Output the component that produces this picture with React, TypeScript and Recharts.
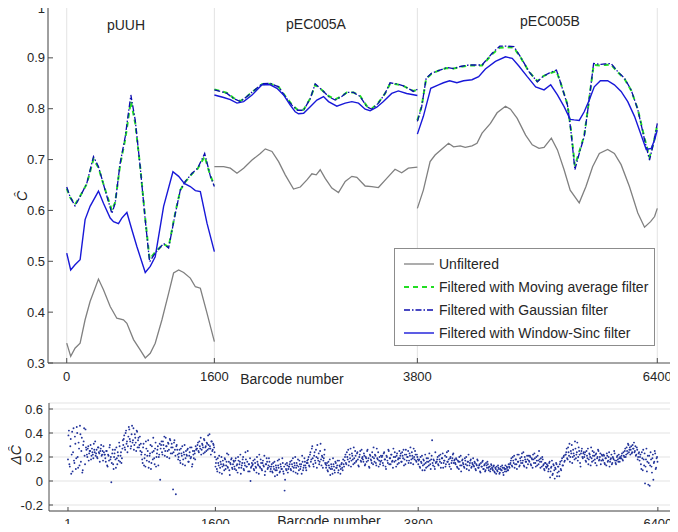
import { CartesianGrid, Legend, Line, LineChart, Scatter, ScatterChart, XAxis, YAxis } from 'recharts';

type Pt = [number, number];

const segmentNames = ['pUUH', 'pEC005A', 'pEC005B'];
const topXTicks = [0, 1600, 3800, 6400];
const bottomXTicks = [1, 1600, 3800, 6400];
const topYTicks = [0.3, 0.4, 0.5, 0.6, 0.7, 0.8, 0.9, 1];
const bottomYTicks = [-0.2, 0, 0.2, 0.4, 0.6];

// [barcode, C-hat] per plasmid segment
const unfiltered: Pt[][] = [
  [[0, 0.339], [43, 0.313], [90, 0.329], [145, 0.339], [199, 0.385], [253, 0.421], [344, 0.465], [398, 0.444], [471, 0.411], [543, 0.388], [615, 0.385], [652, 0.378], [724, 0.346], [796, 0.326], [851, 0.31], [905, 0.319], [959, 0.339], [1032, 0.385], [1104, 0.437], [1158, 0.477], [1213, 0.483], [1267, 0.478], [1339, 0.467], [1394, 0.45], [1448, 0.447], [1520, 0.398], [1600, 0.342]],
  [[1600, 0.686], [1701, 0.686], [1773, 0.683], [1845, 0.673], [1917, 0.683], [2008, 0.699], [2098, 0.712], [2152, 0.721], [2224, 0.716], [2296, 0.696], [2368, 0.67], [2458, 0.642], [2531, 0.646], [2603, 0.66], [2657, 0.672], [2704, 0.67], [2747, 0.68], [2801, 0.663], [2873, 0.644], [2945, 0.635], [3018, 0.657], [3090, 0.667], [3144, 0.665], [3234, 0.648], [3306, 0.647], [3378, 0.645], [3468, 0.663], [3558, 0.681], [3630, 0.674], [3702, 0.683], [3800, 0.685]],
  [[3800, 0.604], [3865, 0.64], [3938, 0.696], [3992, 0.709], [4054, 0.719], [4138, 0.732], [4192, 0.725], [4265, 0.727], [4319, 0.724], [4392, 0.727], [4446, 0.732], [4501, 0.752], [4592, 0.771], [4664, 0.792], [4755, 0.805], [4809, 0.799], [4882, 0.781], [4973, 0.748], [5045, 0.729], [5118, 0.722], [5173, 0.724], [5252, 0.742], [5318, 0.719], [5390, 0.68], [5456, 0.64], [5554, 0.615], [5627, 0.647], [5699, 0.686], [5772, 0.712], [5862, 0.72], [5935, 0.712], [6008, 0.69], [6098, 0.647], [6189, 0.595], [6262, 0.567], [6327, 0.578], [6371, 0.588], [6400, 0.604]],
];

const movingAvg: Pt[][] = [
  [[0, 0.643], [36, 0.626], [90, 0.612], [127, 0.622], [181, 0.64], [217, 0.652], [290, 0.701], [344, 0.684], [416, 0.641], [489, 0.6], [525, 0.616], [579, 0.69], [634, 0.74], [695, 0.815], [742, 0.772], [796, 0.686], [851, 0.584], [898, 0.504], [959, 0.518], [1050, 0.534], [1104, 0.528], [1177, 0.596], [1231, 0.64], [1285, 0.656], [1358, 0.672], [1419, 0.682], [1495, 0.706], [1557, 0.668], [1600, 0.65]],
  [[1600, 0.838], [1665, 0.835], [1737, 0.831], [1809, 0.821], [1881, 0.815], [1953, 0.824], [2025, 0.835], [2116, 0.848], [2206, 0.849], [2296, 0.843], [2368, 0.825], [2440, 0.808], [2502, 0.798], [2567, 0.798], [2639, 0.82], [2693, 0.847], [2765, 0.837], [2837, 0.825], [2909, 0.818], [2981, 0.825], [3036, 0.832], [3108, 0.832], [3180, 0.825], [3252, 0.805], [3306, 0.8], [3378, 0.812], [3450, 0.83], [3504, 0.849], [3576, 0.848], [3648, 0.845], [3720, 0.838], [3756, 0.835], [3800, 0.837]],
  [[3800, 0.777], [3847, 0.805], [3895, 0.859], [3956, 0.869], [4029, 0.875], [4120, 0.88], [4192, 0.879], [4265, 0.882], [4356, 0.885], [4501, 0.885], [4610, 0.907], [4693, 0.92], [4773, 0.921], [4846, 0.92], [4918, 0.901], [5009, 0.873], [5100, 0.854], [5165, 0.864], [5227, 0.869], [5307, 0.874], [5354, 0.85], [5427, 0.808], [5463, 0.76], [5507, 0.688], [5554, 0.715], [5608, 0.747], [5652, 0.805], [5710, 0.886], [5790, 0.885], [5833, 0.886], [5899, 0.887], [5971, 0.872], [6044, 0.859], [6117, 0.836], [6189, 0.799], [6262, 0.742], [6316, 0.705], [6363, 0.735], [6400, 0.768]],
];

const gaussian: Pt[][] = [
  [[0, 0.646], [36, 0.627], [90, 0.609], [127, 0.621], [181, 0.64], [217, 0.653], [290, 0.706], [344, 0.686], [416, 0.64], [489, 0.594], [525, 0.614], [579, 0.693], [634, 0.745], [695, 0.827], [742, 0.778], [796, 0.686], [851, 0.581], [898, 0.499], [959, 0.516], [1050, 0.535], [1104, 0.526], [1177, 0.594], [1231, 0.64], [1285, 0.657], [1358, 0.673], [1419, 0.683], [1495, 0.712], [1557, 0.667], [1600, 0.647]],
  [[1600, 0.837], [1665, 0.834], [1737, 0.83], [1809, 0.82], [1881, 0.814], [1953, 0.824], [2025, 0.835], [2116, 0.849], [2206, 0.85], [2296, 0.843], [2368, 0.824], [2440, 0.807], [2502, 0.797], [2567, 0.797], [2639, 0.82], [2693, 0.849], [2765, 0.837], [2837, 0.824], [2909, 0.817], [2981, 0.824], [3036, 0.832], [3108, 0.832], [3180, 0.824], [3252, 0.804], [3306, 0.799], [3378, 0.811], [3450, 0.83], [3504, 0.851], [3576, 0.849], [3648, 0.845], [3720, 0.838], [3756, 0.834], [3800, 0.838]],
  [[3800, 0.775], [3847, 0.804], [3895, 0.86], [3956, 0.87], [4029, 0.875], [4120, 0.881], [4192, 0.879], [4265, 0.883], [4356, 0.886], [4501, 0.886], [4610, 0.909], [4693, 0.923], [4773, 0.923], [4846, 0.922], [4918, 0.902], [5009, 0.873], [5100, 0.853], [5165, 0.864], [5227, 0.87], [5307, 0.876], [5354, 0.85], [5427, 0.807], [5463, 0.758], [5507, 0.68], [5554, 0.712], [5608, 0.745], [5652, 0.804], [5710, 0.889], [5790, 0.887], [5833, 0.888], [5899, 0.889], [5971, 0.873], [6044, 0.86], [6117, 0.837], [6189, 0.798], [6262, 0.739], [6316, 0.699], [6363, 0.735], [6400, 0.771]],
];

const windowSinc: Pt[][] = [
  [[0, 0.516], [43, 0.483], [90, 0.493], [145, 0.503], [199, 0.582], [253, 0.608], [344, 0.638], [398, 0.614], [471, 0.585], [507, 0.578], [561, 0.574], [597, 0.585], [652, 0.596], [706, 0.562], [760, 0.529], [851, 0.478], [905, 0.49], [959, 0.509], [1050, 0.608], [1151, 0.676], [1213, 0.667], [1274, 0.653], [1339, 0.647], [1394, 0.639], [1448, 0.637], [1520, 0.575], [1600, 0.519]],
  [[1600, 0.827], [1701, 0.822], [1773, 0.818], [1845, 0.811], [1917, 0.814], [2008, 0.827], [2116, 0.847], [2206, 0.847], [2278, 0.84], [2350, 0.827], [2422, 0.807], [2476, 0.794], [2512, 0.79], [2567, 0.791], [2639, 0.804], [2711, 0.817], [2783, 0.824], [2837, 0.814], [2927, 0.805], [3018, 0.811], [3090, 0.814], [3162, 0.811], [3234, 0.799], [3288, 0.796], [3360, 0.803], [3432, 0.814], [3522, 0.83], [3594, 0.835], [3684, 0.83], [3800, 0.826]],
  [[3800, 0.75], [3865, 0.785], [3945, 0.84], [4029, 0.847], [4083, 0.851], [4149, 0.855], [4228, 0.851], [4301, 0.855], [4392, 0.857], [4464, 0.863], [4537, 0.878], [4646, 0.893], [4755, 0.902], [4828, 0.899], [4900, 0.884], [4991, 0.863], [5082, 0.843], [5173, 0.837], [5245, 0.847], [5318, 0.827], [5390, 0.804], [5456, 0.779], [5499, 0.778], [5554, 0.777], [5608, 0.794], [5663, 0.817], [5717, 0.843], [5783, 0.855], [5862, 0.855], [5935, 0.847], [6008, 0.834], [6080, 0.814], [6153, 0.785], [6226, 0.748], [6280, 0.72], [6334, 0.722], [6371, 0.739], [6400, 0.758]],
];

// delta C-hat, read as two interleaved samplings: every deltaStep barcodes from barcode 1 and from barcode 6
const deltaStep = 10;
const deltaC: number[] = [
  0.18, 0.42, 0.12, 0.35, 0.22, 0.08, 0.44, 0.15, 0.31, 0.19, 0.4, 0.11, 0.27, 0.46, 0.16, 0.36, 0.09, 0.33, 0.21, 0.43,
  0.26, 0.2, 0.29, 0.23, 0.25, 0.18, 0.27, 0.22, 0.31, 0.24, 0.21, 0.26, 0.19, 0.28, 0.23, 0.25, 0.3, 0.22, 0.17, 0.24,
  0.22, 0.16, 0.25, 0.12, 0.21, 0.28, 0.18, -0.01, 0.23, 0.14, 0.2, 0.26, 0.11, 0.19, 0.24, 0.17, 0.29, 0.21, 0.15, 0.27,
  0.3, 0.38, 0.26, 0.42, 0.33, 0.29, 0.45, 0.35, 0.27, 0.39, 0.32, 0.44, 0.3, 0.36, 0.25, 0.41, 0.34, 0.28, 0.37, 0.31,
  0.24, 0.15, 0.31, 0.19, 0.12, 0.27, 0.21, 0.34, 0.16, 0.23, 0.1, 0.29, 0.18, 0.25, 0.14, 0.32, 0.2, 0.26, 0.13, 0.22,
  0.01, 0.3, 0.24, 0.33, 0.27, 0.21, 0.36, 0.29, 0.25, 0.31, 0.19, 0.34, 0.28, 0.23, -0.07, 0.32, 0.26, -0.11, 0.3, 0.22,
  0.2, 0.26, 0.15, 0.23, 0.29, 0.18, 0.22, 0.13, 0.25, 0.21, 0.27, 0.16, 0.24, 0.19, 0.28, 0.14, 0.22, 0.25, 0.18, 0.26,
  0.27, 0.32, 0.24, 0.29, 0.36, 0.26, 0.3, 0.23, 0.34, 0.28, 0.25, 0.31, 0.38, 0.27, 0.29, 0.22, 0.33, 0.26, 0.3, 0.24,
  0.12, 0.18, 0.08, 0.15, 0.21, 0.11, 0.14, 0.06, 0.17, 0.13, 0.19, 0.1, 0.16, 0.12, 0.22, 0.09, 0.15, 0.18, 0.11, 0.14,
  0.16, 0.1, 0.19, 0.13, 0.07, 0.17, 0.14, 0.22, 0.11, 0.15, 0.2, 0.09, 0.13, 0.18, 0.12, 0.25, 0.14, 0.08, 0.0, 0.12,
  0.13, 0.17, 0.09, 0.15, 0.11, 0.2, 0.14, 0.06, 0.12, 0.18, 0.1, 0.15, 0.13, 0.21, 0.08, 0.14, 0.16, 0.11, 0.19, 0.12,
  0.1, 0.14, 0.07, 0.12, 0.16, 0.09, 0.11, 0.05, 0.13, 0.18, 0.08, 0.12, 0.1, 0.15, 0.06, -0.08, 0.14, 0.09, 0.13, 0.1,
  0.12, 0.16, 0.09, 0.14, 0.19, 0.11, 0.13, 0.07, 0.15, 0.06, 0.12, 0.17, 0.1, 0.14, 0.21, 0.09, 0.13, 0.16, 0.11, 0.15,
  0.15, 0.2, 0.12, 0.24, 0.18, 0.29, 0.14, 0.21, 0.17, 0.26, 0.11, 0.19, 0.23, 0.16, 0.31, 0.13, 0.2, 0.17, 0.22, 0.15,
  0.11, 0.15, 0.08, 0.13, 0.18, 0.1, 0.12, 0.06, 0.14, 0.09, 0.16, 0.11, 0.13, 0.07, 0.17, 0.12, 0.1, 0.15, 0.09, 0.14,
  0.17, 0.22, 0.14, 0.2, 0.26, 0.16, 0.19, 0.12, 0.23, 0.18, 0.28, 0.15, 0.21, 0.17, 0.24, 0.13, 0.2, 0.25, 0.16, 0.19,
  0.18, 0.23, 0.13, 0.2, 0.16, 0.26, 0.19, 0.11, 0.21, 0.17, 0.24, 0.14, 0.19, 0.22, 0.15, 0.27, 0.18, 0.12, 0.2, 0.16,
  0.17, 0.21, 0.13, 0.24, 0.18, 0.1, 0.2, 0.15, 0.25, 0.19, 0.14, 0.22, 0.17, 0.27, 0.16, 0.2, 0.12, 0.23, 0.18, 0.15,
  0.19, 0.23, 0.16, 0.21, 0.26, 0.18, 0.14, 0.22, 0.2, 0.25, 0.17, 0.21, 0.15, 0.24, 0.19, 0.27, 0.18, 0.22, 0.16, 0.2,
  0.14, 0.18, 0.11, 0.16, 0.21, 0.13, 0.17, 0.09, 0.15, 0.19, 0.12, 0.16, 0.23, 0.14, 0.18, 0.34, 0.13, 0.17, 0.1, 0.15,
  0.16, 0.2, 0.13, 0.18, 0.22, 0.15, 0.19, 0.11, 0.17, 0.21, 0.14, 0.24, 0.16, 0.18, 0.12, 0.2, 0.15, 0.19, 0.23, 0.17,
  0.15, 0.19, 0.12, 0.17, 0.1, 0.16, 0.21, 0.13, 0.18, 0.14, 0.11, 0.17, 0.2, 0.13, 0.16, 0.09, 0.15, 0.18, 0.12, 0.14,
  0.13, 0.16, 0.1, 0.14, 0.18, 0.11, 0.13, 0.08, 0.15, 0.12, 0.17, 0.1, 0.14, 0.09, 0.13, 0.16, 0.11, 0.12, 0.08, 0.14,
  0.11, 0.09, 0.13, 0.07, 0.1, 0.12, 0.08, 0.11, 0.06, 0.1, 0.09, 0.13, 0.07, 0.11, 0.08, 0.1, 0.12, 0.09, 0.14, 0.11,
  0.15, 0.19, 0.12, 0.17, 0.21, 0.14, 0.18, 0.1, 0.16, 0.22, 0.13, 0.17, 0.2, 0.15, 0.24, 0.12, 0.18, 0.16, 0.21, 0.14,
  0.17, 0.21, 0.14, 0.19, 0.11, 0.18, 0.23, 0.15, 0.2, 0.13, 0.17, 0.25, 0.16, 0.19, 0.12, 0.18, 0.14, 0.09, 0.15, 0.11,
  0.12, 0.08, 0.15, 0.03, 0.11, 0.17, 0.06, 0.13, 0.02, 0.1, 0.14, 0.07, 0.12, 0.04, 0.16, 0.09, 0.19, 0.13, 0.21, 0.17,
  0.22, 0.27, 0.18, 0.24, 0.31, 0.2, 0.23, 0.15, 0.26, 0.21, 0.33, 0.19, 0.24, 0.17, 0.28, 0.22, 0.12, 0.25, 0.2, 0.23,
  0.2, 0.24, 0.16, 0.21, 0.27, 0.18, 0.22, 0.13, 0.19, 0.25, 0.17, 0.21, 0.15, 0.23, 0.19, 0.26, 0.17, 0.2, 0.14, 0.22,
  0.18, 0.22, 0.15, 0.19, 0.13, 0.21, 0.17, 0.24, 0.16, 0.19, 0.14, 0.2, 0.18, 0.23, 0.15, 0.17, 0.21, 0.16, 0.19, 0.2,
  0.19, 0.23, 0.17, 0.21, 0.25, 0.2, 0.28, 0.23, 0.3, 0.26, 0.22, 0.29, 0.24, 0.27, 0.32, 0.25, 0.21, 0.28, 0.18, 0.23,
  0.17, 0.22, 0.1, 0.19, 0.26, 0.13, -0.02, 0.18, 0.08, 0.21, 0.15, -0.04, 0.24, 0.12, 0.19, 0.01, 0.16, 0.23, 0.11, 0.2,
];

const deltaC2: number[] = [
  0.38, 0.14, 0.29, 0.06, 0.41, 0.24, 0.17, 0.37, 0.1, 0.45, 0.2, 0.32, 0.13, 0.39, 0.25, 0.07, 0.3, 0.44, 0.14, 0.28,
  0.22, 0.27, 0.17, 0.25, 0.3, 0.21, 0.24, 0.19, 0.26, 0.33, 0.23, 0.2, 0.28, 0.24, 0.16, 0.27, 0.21, 0.25, 0.29, 0.22,
  0.19, 0.25, 0.13, 0.22, 0.17, 0.3, 0.2, 0.15, 0.26, 0.1, 0.23, 0.18, 0.28, 0.14, 0.21, 0.32, 0.16, 0.24, 0.19, 0.34,
  0.35, 0.28, 0.4, 0.31, 0.24, 0.37, 0.43, 0.33, 0.29, 0.46, 0.34, 0.26, 0.39, 0.32, 0.42, 0.28, 0.36, 0.3, 0.25, 0.22,
  0.18, 0.28, 0.13, 0.22, 0.33, 0.17, 0.25, 0.11, 0.21, 0.3, 0.15, 0.24, 0.36, 0.19, 0.27, 0.12, 0.23, 0.29, 0.2, 0.31,
  0.27, 0.33, 0.22, 0.3, 0.37, 0.25, 0.29, 0.2, 0.32, 0.26, 0.35, 0.23, 0.31, 0.28, 0.24, 0.34, 0.21, 0.29, 0.26, 0.18,
  0.23, 0.17, 0.27, 0.21, 0.14, 0.24, 0.3, 0.19, 0.22, 0.26, 0.16, 0.21, 0.28, 0.2, 0.12, 0.25, 0.19, 0.23, 0.29, 0.27,
  0.3, 0.25, 0.33, 0.27, 0.22, 0.31, 0.28, 0.35, 0.24, 0.29, 0.32, 0.26, 0.3, 0.39, 0.27, 0.33, 0.25, 0.31, 0.28, 0.2,
  0.15, 0.1, 0.19, 0.13, 0.07, 0.16, 0.2, 0.12, 0.14, 0.09, 0.18, 0.13, 0.23, 0.11, 0.16, 0.05, 0.14, 0.19, 0.1, 0.17,
  0.12, 0.17, 0.09, 0.14, 0.2, 0.11, 0.16, 0.06, 0.13, 0.18, 0.1, 0.15, 0.24, 0.12, 0.16, 0.08, 0.14, 0.19, 0.11, 0.15,
  0.14, 0.1, 0.18, 0.12, 0.07, 0.16, 0.13, 0.22, 0.11, 0.15, 0.09, 0.17, 0.12, 0.05, 0.14, 0.19, 0.1, 0.13, 0.16, 0.08,
  0.12, 0.08, 0.15, 0.1, 0.04, 0.13, 0.09, 0.17, 0.11, 0.07, 0.14, 0.1, 0.19, 0.08, 0.12, 0.01, 0.1, 0.15, 0.07, 0.12,
  0.14, 0.1, 0.17, 0.12, 0.08, 0.15, 0.2, 0.11, 0.13, 0.18, 0.09, 0.14, 0.12, 0.06, 0.16, 0.11, 0.19, 0.13, 0.09, 0.17,
  0.18, 0.13, 0.22, 0.16, 0.27, 0.19, 0.12, 0.24, 0.15, 0.2, 0.3, 0.17, 0.14, 0.25, 0.18, 0.21, 0.11, 0.19, 0.26, 0.14,
  0.13, 0.09, 0.16, 0.11, 0.05, 0.14, 0.1, 0.19, 0.12, 0.07, 0.15, 0.11, 0.17, 0.09, 0.13, 0.06, 0.14, 0.11, 0.18, 0.12,
  0.2, 0.15, 0.24, 0.18, 0.13, 0.22, 0.27, 0.17, 0.21, 0.14, 0.19, 0.25, 0.16, 0.23, 0.18, 0.12, 0.22, 0.17, 0.26, 0.2,
  0.16, 0.21, 0.14, 0.19, 0.25, 0.17, 0.12, 0.22, 0.18, 0.15, 0.2, 0.28, 0.16, 0.21, 0.13, 0.19, 0.24, 0.17, 0.14, 0.21,
  0.2, 0.15, 0.23, 0.18, 0.12, 0.21, 0.17, 0.26, 0.14, 0.19, 0.22, 0.16, 0.11, 0.2, 0.24, 0.17, 0.21, 0.14, 0.19, 0.25,
  0.21, 0.16, 0.24, 0.19, 0.13, 0.22, 0.26, 0.17, 0.2, 0.15, 0.23, 0.28, 0.18, 0.21, 0.14, 0.2, 0.25, 0.17, 0.22, 0.18,
  0.17, 0.12, 0.2, 0.15, 0.09, 0.18, 0.14, 0.22, 0.11, 0.16, 0.19, 0.13, 0.17, 0.1, 0.21, 0.15, 0.18, 0.12, 0.24, 0.16,
  0.18, 0.14, 0.21, 0.16, 0.11, 0.19, 0.23, 0.15, 0.17, 0.12, 0.2, 0.16, 0.25, 0.14, 0.19, 0.1, 0.17, 0.22, 0.15, 0.18,
  0.14, 0.18, 0.11, 0.16, 0.2, 0.13, 0.08, 0.17, 0.15, 0.12, 0.19, 0.14, 0.1, 0.16, 0.22, 0.13, 0.17, 0.11, 0.15, 0.19,
  0.12, 0.15, 0.09, 0.13, 0.17, 0.11, 0.14, 0.07, 0.12, 0.16, 0.1, 0.13, 0.08, 0.15, 0.11, 0.14, 0.09, 0.12, 0.1, 0.13,
  0.1, 0.12, 0.08, 0.11, 0.06, 0.09, 0.13, 0.1, 0.07, 0.12, 0.09, 0.11, 0.05, 0.1, 0.13, 0.08, 0.11, 0.09, 0.12, 0.14,
  0.17, 0.13, 0.2, 0.15, 0.11, 0.18, 0.14, 0.22, 0.16, 0.12, 0.19, 0.15, 0.23, 0.17, 0.13, 0.2, 0.16, 0.11, 0.18, 0.21,
  0.16, 0.2, 0.13, 0.18, 0.22, 0.15, 0.19, 0.12, 0.17, 0.21, 0.14, 0.18, 0.11, 0.16, 0.2, 0.13, 0.1, 0.15, 0.12, 0.14,
  0.13, 0.1, 0.16, 0.08, 0.12, 0.05, 0.14, 0.09, 0.11, 0.15, 0.04, 0.12, 0.08, 0.14, 0.1, 0.17, 0.13, 0.2, 0.16, 0.22,
  0.24, 0.19, 0.28, 0.21, 0.16, 0.25, 0.3, 0.2, 0.23, 0.18, 0.27, 0.22, 0.32, 0.2, 0.25, 0.15, 0.23, 0.27, 0.19, 0.24,
  0.22, 0.17, 0.25, 0.19, 0.14, 0.23, 0.2, 0.28, 0.16, 0.21, 0.24, 0.18, 0.22, 0.13, 0.2, 0.25, 0.18, 0.23, 0.17, 0.21,
  0.17, 0.21, 0.14, 0.19, 0.23, 0.16, 0.2, 0.12, 0.18, 0.22, 0.15, 0.19, 0.25, 0.17, 0.14, 0.2, 0.18, 0.22, 0.16, 0.19,
  0.21, 0.18, 0.24, 0.2, 0.27, 0.22, 0.25, 0.31, 0.24, 0.28, 0.26, 0.23, 0.3, 0.27, 0.24, 0.29, 0.22, 0.26, 0.2, 0.24,
  0.2, 0.14, 0.24, 0.09, 0.18, 0.23, 0.12, 0.27, 0.16, -0.03, 0.21, 0.13, 0.18, 0.07, 0.22, 0.15, 0.25, 0.1, 0.19, 0.16,
];

const series = [
  { name: 'Unfiltered', segs: unfiltered, color: '#808080', width: 1.3, dash: undefined as string | undefined },
  { name: 'Filtered with Moving average filter', segs: movingAvg, color: '#22dd22', width: 2, dash: '5 4' },
  { name: 'Filtered with Gaussian filter', segs: gaussian, color: '#0c0cae', width: 1.3, dash: '6 2 1.5 2' },
  { name: 'Filtered with Window-Sinc filter', segs: windowSinc, color: '#1818d8', width: 1.4, dash: undefined },
];

// null row between segments breaks the line
const toRows = (segs: Pt[][]) =>
  segs.flatMap((seg, i) => [
    ...(i > 0 ? [{ x: seg[0][0], y: null as number | null }] : []),
    ...seg.map(([x, y]) => ({ x, y: y as number | null })),
  ]);

const deltaRows = [
  ...deltaC.map((y, i) => ({ x: 1 + i * deltaStep, y })),
  ...deltaC2.map((y, i) => ({ x: 6 + i * deltaStep, y })),
];

const font = '"Liberation Sans", Arial, Helvetica, sans-serif';
const axisColor = '#4d4d4d';
const tickStyle = { fill: '#262626', fontSize: 13, fontFamily: font };
const fmt = (v: number) => (v === 0 || v === 1 ? String(v) : v.toFixed(1));

const LegendBox = () => (
  <div style={{ boxSizing: 'border-box', border: '1px solid #8c8c8c', background: '#fff', padding: '3px 0 3px 8px',
    fontFamily: font, width: 261, height: 98 }}>
    {series.map((s) => (
      <div key={s.name} style={{ display: 'flex', alignItems: 'center', height: 23, whiteSpace: 'nowrap' }}>
        <svg width={32} height={10}>
          <line x1={1} x2={31} y1={5} y2={5} stroke={s.color} strokeWidth={s.width} strokeDasharray={s.dash} />
        </svg>
        <span style={{ marginLeft: 4, fontSize: 14, color: '#262626' }}>{s.name}</span>
      </div>
    ))}
  </div>
);

const Dot = (props: any) => <circle cx={props.cx} cy={props.cy} r={0.95} fill="#22339a" />;

const label = (text: string, x: number, y: number, extra: any = {}) => (
  <div
    style={{
      position: 'absolute', left: x, top: y, transform: 'translate(-50%, -50%)', fontFamily: font,
      fontSize: 14, color: '#262626', whiteSpace: 'nowrap', ...extra,
    }}
  >
    {text}
  </div>
);

export default function App() {
  return (
    <div style={{ position: 'relative', width: 678, height: 532, margin: -8, background: '#fff', overflow: 'hidden' }}>
      <div style={{ position: 'absolute', left: 0, top: 0 }}>
        <LineChart width={678} height={400} margin={{ top: 7, right: 3, bottom: 0, left: 0 }}>
          <CartesianGrid horizontal={false} stroke="#e3e3e3" />
          <XAxis dataKey="x" type="number" domain={[-203, 6592]} ticks={topXTicks} allowDataOverflow height={37}
            stroke={axisColor} tickSize={-5} tickMargin={14} tick={tickStyle} />
          <XAxis xAxisId="top" orientation="top" type="number" domain={[-203, 6592]} ticks={topXTicks} allowDataOverflow
            height={0} stroke={axisColor} tickSize={-5} tick={false} />
          <YAxis type="number" domain={[0.3, 1]} ticks={topYTicks} allowDataOverflow width={48}
            stroke={axisColor} tickSize={-5} tickMargin={8} tick={tickStyle} tickFormatter={fmt} />
          <YAxis yAxisId="right" orientation="right" type="number" domain={[0.3, 1]} ticks={topYTicks} allowDataOverflow
            width={0} stroke={axisColor} tickSize={-5} tick={false} />
          {series.map((s) => (
            <Line key={s.name} data={toRows(s.segs)} dataKey="y" name={s.name} stroke={s.color} strokeWidth={s.width}
              strokeDasharray={s.dash} dot={false} activeDot={false} connectNulls={false} isAnimationActive={false} />
          ))}
          <Legend layout="vertical" align="center" verticalAlign="middle" content={LegendBox}
            wrapperStyle={{ left: 394, top: 248, width: 261 }} />
        </LineChart>
      </div>
      <div style={{ position: 'absolute', left: 0, top: 395 }}>
        <ScatterChart width={678} height={137} margin={{ top: 8, right: 4, bottom: 0, left: 0 }}>
          <CartesianGrid vertical={false} stroke="#e3e3e3" />
          <XAxis dataKey="x" type="number" domain={[-205, 6575]} ticks={bottomXTicks} allowDataOverflow height={21}
            stroke={axisColor} tickSize={-4} tickMargin={12} tick={tickStyle} />
          <XAxis xAxisId="top" orientation="top" type="number" domain={[-205, 6575]} ticks={bottomXTicks} allowDataOverflow
            height={0} stroke={axisColor} tickSize={-4} tick={false} />
          <YAxis dataKey="y" type="number" domain={[-0.25, 0.65]} ticks={bottomYTicks} allowDataOverflow width={49}
            stroke={axisColor} tickSize={-4} tickMargin={10} tick={tickStyle} tickFormatter={fmt} />
          <YAxis yAxisId="right" orientation="right" type="number" domain={[-0.25, 0.65]} ticks={bottomYTicks}
            allowDataOverflow width={0} stroke={axisColor} tickSize={-4} tick={false} />
          <Scatter data={deltaRows} shape={Dot} isAnimationActive={false} />
        </ScatterChart>
      </div>
      {label(segmentNames[0], 126, 25)}
      {label(segmentNames[1], 316, 24)}
      {label(segmentNames[2], 550, 21)}
      {label('Barcode number', 292, 379)}
      {label('Barcode number', 329, 521)}
      {label('Ĉ', 22, 196, { fontStyle: 'italic', transform: 'translate(-50%, -50%) rotate(-90deg)' })}
      {label('ΔĈ', 16, 455, { fontStyle: 'italic', transform: 'translate(-50%, -50%) rotate(-90deg)' })}
    </div>
  );
}
